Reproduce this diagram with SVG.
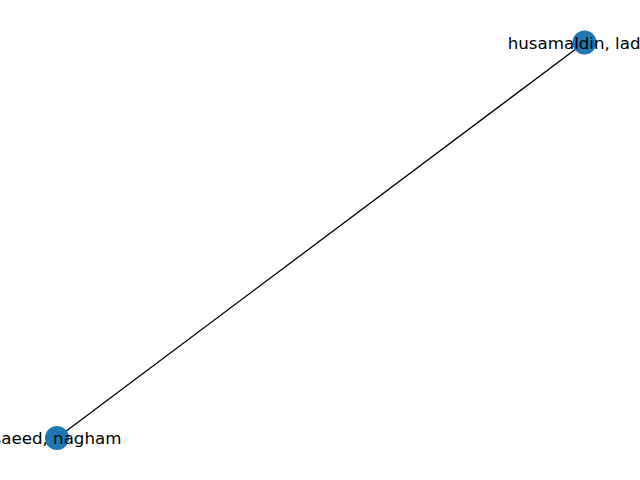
<svg xmlns="http://www.w3.org/2000/svg" width="640" height="480" viewBox="0 0 640 480">
<style>
.node{fill:#1f77b4;}
.edge{stroke:#000;stroke-width:1.3;fill:none;}
.label{font-family:"DejaVu Sans",sans-serif;font-size:16.67px;fill:#000;text-anchor:middle;}
</style>
<rect width="640" height="480" fill="#fff"/>
<g id="edges">
<line class="edge" x1="584.5" y1="42.5" x2="57" y2="438"/>
</g>
<g id="node-husamaldin">
<circle class="node" cx="584.5" cy="42.5" r="12"/>
<text class="label" x="584.5" y="48.5">husamaldin, ladan</text>
</g>
<g id="node-saeed">
<circle class="node" cx="57" cy="438" r="12"/>
<text class="label" x="57" y="444">saeed, nagham</text>
</g>
</svg>
